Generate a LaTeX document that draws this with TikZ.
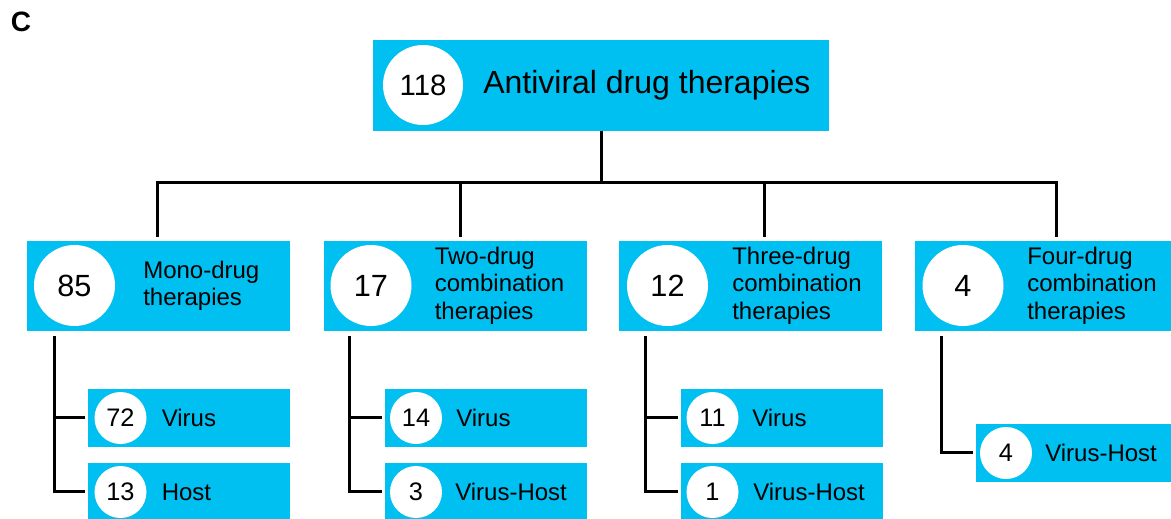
\documentclass[tikz,border=0pt]{standalone}
\usepackage{fontspec}
\setmainfont{Liberation Sans}
\definecolor{cyanbox}{RGB}{0,191,241}
\begin{document}
\begin{tikzpicture}[x=0.75pt,y=-0.75pt,
  box/.style={fill=cyanbox, draw=none, anchor=north west, inner sep=0pt, outer sep=0pt},
  bignum/.style={circle, fill=white, inner sep=0pt, minimum size=81*0.75pt, font=\fontsize{23}{27}\selectfont},
  smallnum/.style={circle, fill=white, inner sep=0pt, minimum size=52*0.75pt, font=\fontsize{19}{22}\selectfont},
  lbl/.style={anchor=west, inner sep=0pt, align=left, font=\fontsize{18}{20.6}\selectfont},
  leaflbl/.style={anchor=base west, inner sep=0pt, font=\fontsize{18}{21}\selectfont},
  conn/.style={line width=2.25pt, black}]
\useasboundingbox (0,0) rectangle (1171,518);
\clip (0,0) rectangle (1171,518);

% panel label
\node[inner sep=0pt, font=\bfseries\fontsize{21}{25}\selectfont] (lab) at (21,22) {C};

% top box
\node[box, minimum width=456*0.75pt, minimum height=91*0.75pt] (top) at (373,40) {};
\node[bignum, minimum size=80*0.75pt, font=\fontsize{22}{26}\selectfont] (n118) at (423,85) {118};
\node[anchor=base west, inner sep=0pt, font=\fontsize{24}{28}\selectfont] (ttl) at (483,93.5) {Antiviral drug therapies};

% level 2 boxes
\node[box, minimum width=263*0.75pt, minimum height=90*0.75pt] (b1) at (27,240.5) {};
\node[box, minimum width=263*0.75pt, minimum height=90*0.75pt] (b2) at (323.5,240.5) {};
\node[box, minimum width=263*0.75pt, minimum height=90*0.75pt] (b3) at (619,240.5) {};
\node[box, minimum width=263*0.75pt, minimum height=90*0.75pt] (b4) at (915,240.5) {};

\node[bignum] (c1) at (74.5,285.5) {85};
\node[bignum] (c2) at (371,285.5) {17};
\node[bignum] (c3) at (667.5,285.5) {12};
\node[bignum] (c4) at (963,285.5) {4};

\node[lbl] (t1) at (143,286) {Mono-drug\\therapies};
\node[lbl] (t2) at (434.5,285.5) {Two-drug\\combination\\therapies};
\node[lbl] (t3) at (732,285.5) {Three-drug\\combination\\therapies};
\node[lbl] (t4) at (1027,285.5) {Four-drug\\combination\\therapies};

% level 3 boxes
\node[box, minimum width=202*0.75pt, minimum height=57.5*0.75pt] (v1) at (88,389) {};
\node[box, minimum width=202*0.75pt, minimum height=57.5*0.75pt] (h1) at (88,463) {};
\node[box, minimum width=202*0.75pt, minimum height=57.5*0.75pt] (v2) at (384.5,389) {};
\node[box, minimum width=202*0.75pt, minimum height=57.5*0.75pt] (h2) at (384.5,463) {};
\node[box, minimum width=202*0.75pt, minimum height=57.5*0.75pt] (v3) at (680.5,389) {};
\node[box, minimum width=202*0.75pt, minimum height=57.5*0.75pt] (h3) at (680.5,463) {};
\node[box, minimum width=202*0.75pt, minimum height=57.5*0.75pt] (vh4) at (976,424) {};

\node[smallnum] (v1c) at (120.5,418) {72};
\node[smallnum] (h1c) at (120.5,492) {13};
\node[smallnum] (v2c) at (416,418) {14};
\node[smallnum] (h2c) at (416,492) {3};
\node[smallnum] (v3c) at (712.5,418) {11};
\node[smallnum] (h3c) at (712.5,492) {1};
\node[smallnum] (vh4c) at (1006,453) {4};

\node[leaflbl] (v1t) at (161.5,426.6) {Virus};
\node[leaflbl] (h1t) at (161.5,500.6) {Host};
\node[leaflbl] (v2t) at (456,426.6) {Virus};
\node[leaflbl] (h2t) at (455,500.6) {Virus-Host};
\node[leaflbl] (v3t) at (752,426.6) {Virus};
\node[leaflbl] (h3t) at (753,500.6) {Virus-Host};
\node[leaflbl] (vh4t) at (1045,461.6) {Virus-Host};

% connectors: top tree
\coordinate (j) at (601,182);
\coordinate (d1) at (157,236.5);
\coordinate (d2) at (460,236.5);
\coordinate (d3) at (764,236.5);
\coordinate (d4) at (1056,236.5);
\draw[conn] (top.south) -- (j);
\draw[conn] (d1) -- (d1 |- j) -- (d4 |- j) -- (d4);
\draw[conn] (d2) -- (d2 |- j);
\draw[conn] (d3) -- (d3 |- j);

% connectors: sub trees
\coordinate (s1) at (54,336);
\coordinate (s2) at (349.5,336);
\coordinate (s3) at (645.5,336);
\coordinate (s4) at (941,336);
\draw[conn] (s1) |- ([xshift=-2.25pt]v1.west);
\draw[conn] (s1) |- ([xshift=-2.25pt]h1.west);
\draw[conn] (s2) |- ([xshift=-2.25pt]v2.west);
\draw[conn] (s2) |- ([xshift=-2.25pt]h2.west);
\draw[conn] (s3) |- ([xshift=-2.25pt]v3.west);
\draw[conn] (s3) |- ([xshift=-2.25pt]h3.west);
\draw[conn] (s4) |- ([xshift=-2.25pt]vh4.west);
\end{tikzpicture}
\end{document}
